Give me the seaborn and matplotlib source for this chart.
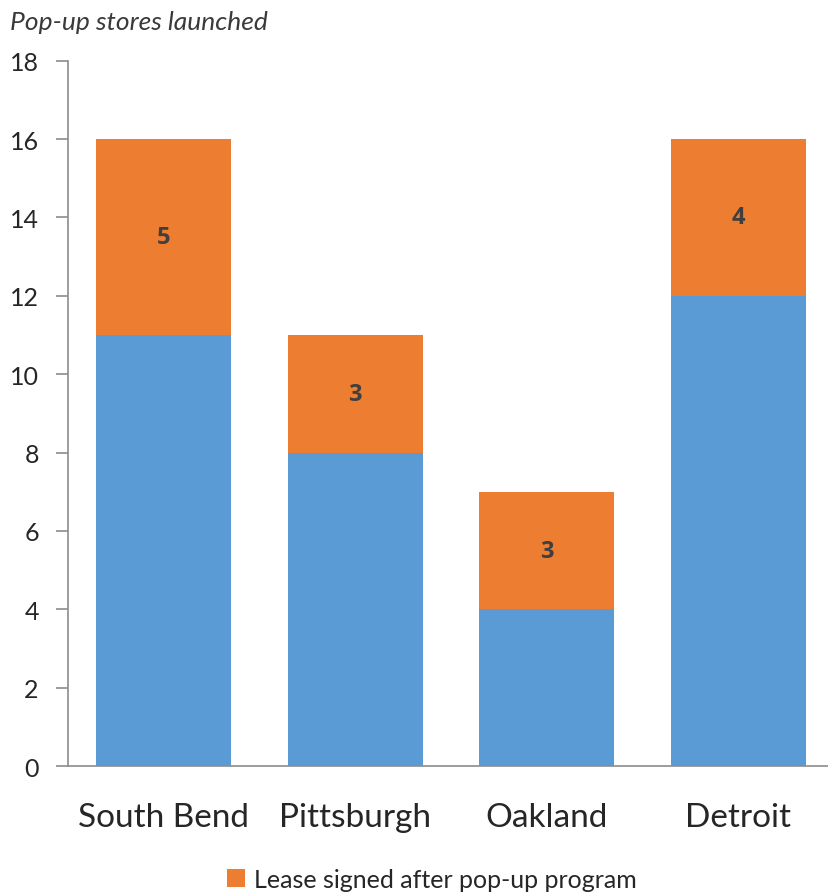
import matplotlib
matplotlib.use("Agg")
import matplotlib.pyplot as plt
from matplotlib.patches import Patch
import seaborn as sns
import pandas as pd

cities = ["South Bend", "Pittsburgh", "Oakland", "Detroit"]
still_open = [11, 8, 4, 12]
lease_signed = [5, 3, 3, 4]
y_ticks = [0, 2, 4, 6, 8, 10, 12, 14, 16, 18]

BLUE = "#5B9BD5"
ORANGE = "#ED7D31"
TEXT = "#262626"
AXIS = "#8C8C8C"

sns.set_theme(style="white")
plt.rcParams["font.family"] = ["Lato", "DejaVu Sans"]

df = pd.DataFrame({
    "city": cities,
    "base": still_open,
    "lease": lease_signed,
})
df["total"] = df["base"] + df["lease"]

fig = plt.figure(figsize=(8.29, 8.95), dpi=100)
ax = fig.add_axes([0.082, 0.143, 0.924, 0.788])

sns.barplot(data=df, x="city", y="total", color=ORANGE, width=0.705,
            saturation=1, ax=ax, order=cities, linewidth=0, edgecolor="none")
sns.barplot(data=df, x="city", y="base", color=BLUE, width=0.705,
            saturation=1, ax=ax, order=cities, linewidth=0, edgecolor="none")

# count of leases, centred in the orange segment
for i, row in df.iterrows():
    ax.text(i, row["base"] + row["lease"] / 2, f"{row['lease']}",
            ha="center", va="center", fontsize=17, fontweight="bold",
            family=["Open Sans", "DejaVu Sans"], color="#3f3f3f")

ax.set_xlim(-0.5, 3.5)
ax.set_ylim(0, 18)
ax.set_yticks(y_ticks)
ax.set_yticklabels([str(t) for t in y_ticks])
ax.set_xlabel("")
ax.set_ylabel("")

for s in ["top", "right"]:
    ax.spines[s].set_visible(False)
for s in ["left", "bottom"]:
    ax.spines[s].set_color(AXIS)
    ax.spines[s].set_linewidth(1.2)

ax.tick_params(axis="y", left=True, direction="out", length=9, width=1.2,
               color=AXIS, labelsize=18, labelcolor=TEXT, pad=12)
ax.tick_params(axis="x", bottom=False, length=0, labelsize=24,
               labelcolor=TEXT, pad=26)

fig.text(0.012, 0.975, "Pop-up stores launched", style="italic",
         fontsize=19, color="#3a3a3a", ha="left", va="center")

fig.legend(handles=[Patch(facecolor=ORANGE, edgecolor="none",
                          label="Lease signed after pop-up program")],
           loc="center", bbox_to_anchor=(0.521, 0.0165), frameon=False,
           fontsize=18, handlelength=0.7, handleheight=0.7,
           handletextpad=0.35, labelcolor=TEXT, borderpad=0)

fig.savefig("out.png", dpi=100)
